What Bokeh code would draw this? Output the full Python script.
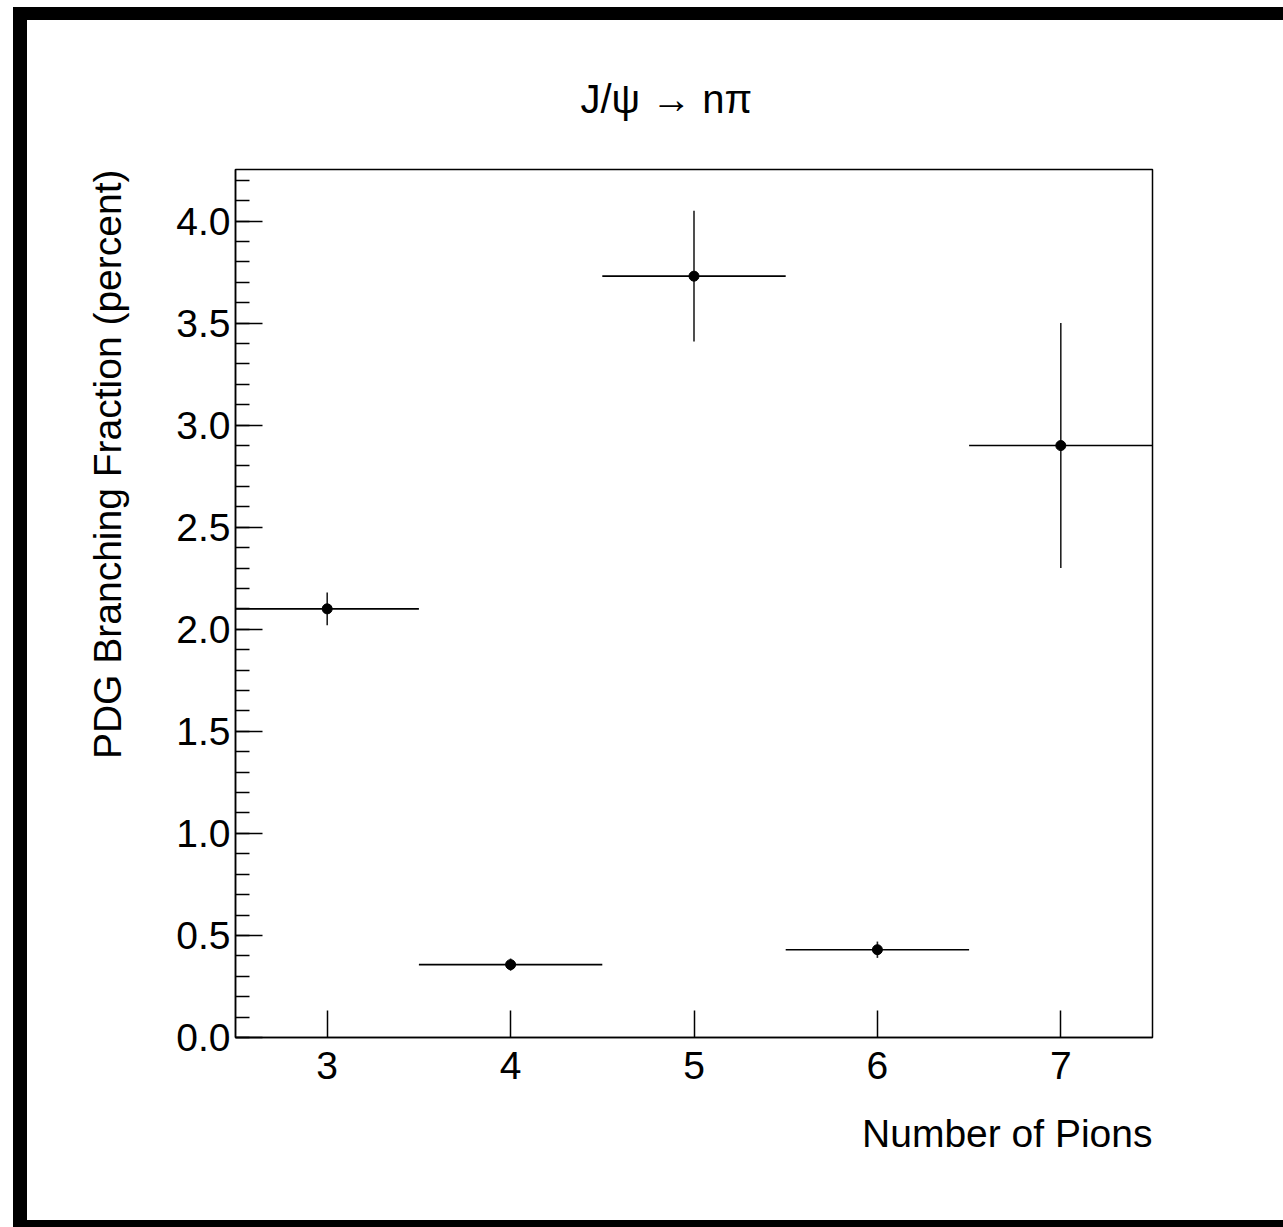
import numpy as np
from bokeh.plotting import figure
from bokeh.models import (Range1d, FixedTicker, SingleIntervalTicker, NumeralTickFormatter,
                          ColumnDataSource, Title)
from bokeh.embed import file_html
from bokeh.resources import INLINE

# ---- data ----
n_pions = [3, 4, 5, 6, 7]
branching = [2.10, 0.357, 3.73, 0.43, 2.90]
branching_err = [0.08, 0.03, 0.32, 0.04, 0.60]
bin_half_width = [0.5, 0.5, 0.5, 0.5, 0.5]
x_ticks = [3, 4, 5, 6, 7]

title_text = "J/\u03c8 \u2192 n\u03c0"
x_title = "Number of Pions"
y_title = "PDG Branching Fraction (percent)"

FONT = "Liberation Sans"
W, H = 1256, 1200

x = np.array(n_pions, dtype=float)
y = np.array(branching)
ey = np.array(branching_err)
ex = np.array(bin_half_width)

ymax = float(np.max(y + ey)) * 1.05

p = figure(width=W, height=H, output_backend="svg", toolbar_location=None,
           x_range=Range1d(2.5, 7.5), y_range=Range1d(0, ymax),
           min_border_left=208, min_border_right=131, min_border_top=149,
           min_border_bottom=183)
# thick ROOT-like canvas border drawn as shadows (does not change the measured size)
p.styles = {"margin-left": "27px", "margin-top": "20px",
            "box-shadow": "-14px 0 0 0 black, 0 -13px 0 0 black, -14px -13px 0 0 black, "
                          "0 7px 0 0 black, -14px 7px 0 0 black"}
p.background_fill_color = "white"
p.border_fill_color = "white"
p.outline_line_color = "black"
p.outline_line_width = 1.5
p.xgrid.visible = False
p.ygrid.visible = False

# title
p.title.text = title_text
p.title.text_font = FONT
p.title.text_font_size = "40px"
p.title.text_font_style = "normal"
p.title.text_color = "black"
p.title.align = "left"
p.title.offset = 345
p.title.standoff = 98

# axes
xa = p.xaxis[0]
xa.ticker = FixedTicker(ticks=x_ticks, minor_ticks=[])
xa.major_tick_in = 27
xa.major_tick_out = 0
xa.minor_tick_in = 0
xa.minor_tick_out = 0
xa.major_label_text_font = FONT
xa.major_label_text_font_size = "39px"
xa.major_label_text_color = "black"
xa.major_label_standoff = 14
xa.axis_line_width = 1.5
xa.major_tick_line_width = 1.5

ya = p.yaxis[0]
ya.ticker = SingleIntervalTicker(interval=0.5, num_minor_ticks=5)
ya.formatter = NumeralTickFormatter(format="0.0")
ya.major_tick_in = 27
ya.major_tick_out = 0
ya.minor_tick_in = 14
ya.minor_tick_out = 0
ya.major_label_text_font = FONT
ya.major_label_text_font_size = "39px"
ya.major_label_text_color = "black"
ya.major_label_standoff = 5
ya.axis_line_width = 1.5
ya.major_tick_line_width = 1.5
ya.minor_tick_line_width = 1.5

# axis titles, ROOT style: aligned to the end of each axis
p.add_layout(Title(text=x_title, align="right", text_font=FONT, text_font_size="39px",
                   text_font_style="normal", text_color="black", standoff=56), "below")
p.add_layout(Title(text=y_title, align="right", text_font=FONT, text_font_size="39px",
                   text_font_style="normal", text_color="black", standoff=90), "left")

# error bars and points
src = ColumnDataSource(dict(x=x, y=y, x0=x - ex, x1=x + ex, y0=y - ey, y1=y + ey))
p.segment(x0="x0", y0="y", x1="x1", y1="y", source=src, line_color="black", line_width=1.6)
p.segment(x0="x", y0="y0", x1="x", y1="y1", source=src, line_color="#222222", line_width=1.6)
p.scatter(x="x", y="y", source=src, size=10, marker="circle", fill_color="black", line_color="black")

open("out.html", "w").write(file_html(p, INLINE))
